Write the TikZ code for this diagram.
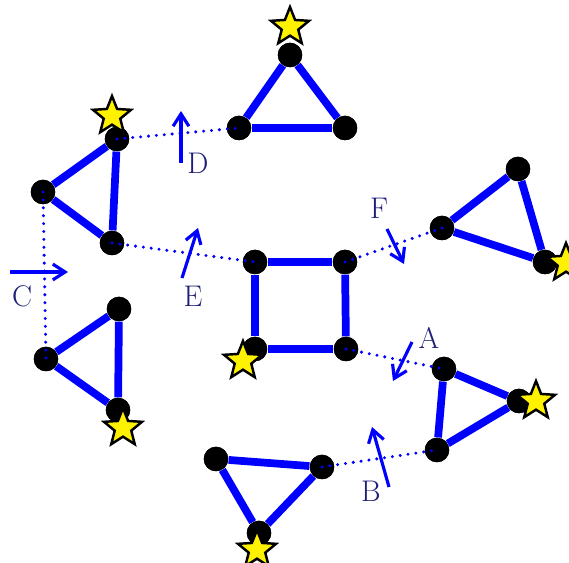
\documentclass[tikz,border=0pt]{standalone}
\usepackage{fontspec}
\usetikzlibrary{shapes.geometric,arrows.meta}
\definecolor{navy}{RGB}{30,30,120}
\begin{document}
\begin{tikzpicture}[x=0.02cm, y=-0.02cm,
  vert/.style={circle, fill=black, inner sep=0pt, minimum size=0.49cm},
  bond/.style={line width=4.4pt, draw=blue},
  link/.style={line width=1.9pt, draw=blue, dash pattern=on 0pt off 4.5pt, line cap=round},
  flip/.style={line width=1.8pt, draw=blue, -{Straight Barb[length=7pt, width=9pt]}},
  starmark/.style={star, star points=5, star point ratio=2.3, fill=yellow, draw=black, line width=1.4pt, inner sep=0pt, minimum size=0.8cm},
  lbl/.style={text=navy, font=\fontsize{17}{19}\selectfont}]
  \useasboundingbox (0,0) rectangle (569,563);
  % square
  \node[vert] (sq1) at (255,262) {};
  \node[vert] (sq2) at (345,262) {};
  \node[vert] (sq3) at (346,349) {};
  \node[vert] (sq4) at (255,349) {};
  % top triangle
  \node[vert] (ta) at (290,55) {};
  \node[vert] (tb) at (239,128) {};
  \node[vert] (tc) at (345,128) {};
  % upper left triangle
  \node[vert] (ua) at (117,139) {};
  \node[vert] (ub) at (43,192) {};
  \node[vert] (uc) at (112,243) {};
  % lower left triangle
  \node[vert] (la) at (119,309) {};
  \node[vert] (lb) at (46,359) {};
  \node[vert] (lc) at (118,410) {};
  % right triangle (F)
  \node[vert] (ra) at (518,169) {};
  \node[vert] (rb) at (442,228) {};
  \node[vert] (rc) at (545,262) {};
  % right triangle (A, B)
  \node[vert] (sa) at (444,369) {};
  \node[vert] (sb) at (519,401) {};
  \node[vert] (sc) at (437,450) {};
  % bottom triangle
  \node[vert] (ba) at (216,459) {};
  \node[vert] (bb) at (322,467) {};
  \node[vert] (bc) at (259,533) {};
  % bonds
  \foreach \p/\q in {sq1/sq2, sq2/sq3, sq3/sq4, sq4/sq1, ta/tb, tb/tc, tc/ta, ua/ub, ub/uc, uc/ua,
    la/lb, lb/lc, lc/la, ra/rb, rb/rc, rc/ra, sa/sb, sb/sc, sc/sa, ba/bb, bb/bc, bc/ba}
    \draw[bond] (\p) -- (\q);
  \foreach \v in {sq1, sq2, sq3, sq4, ta, tb, tc, ua, ub, uc, la, lb, lc, ra, rb, rc, sa, sb, sc, ba, bb, bc}
    \node[vert] at (\v) {};
  % stars
  \node[starmark] (st1) at (290,27) {};
  \node[starmark] (st2) at (112,116) {};
  \node[starmark] (st3) at (243,361) {};
  \node[starmark] (st4) at (123,428) {};
  \node[starmark] (st5) at (566,263) {};
  \node[starmark] (st6) at (536,401) {};
  \node[starmark] (st7) at (257,550) {};
  % dotted links
  \draw[link] (ua.center) -- (tb.center);
  \draw[link] (uc.center) -- (sq1.center);
  \draw[link] (ub.center) -- (lb.center);
  \draw[link] (sq2.center) -- (rb.center);
  \draw[link] (sq3.center) -- (sa.center);
  \draw[link] (bb.center) -- (sc.center);
  % flip arrows
  \coordinate (d0) at (181,163); \coordinate (d1) at (181,111);
  \coordinate (e0) at (182,278); \coordinate (e1) at (198,228);
  \coordinate (c0) at (10,272);  \coordinate (c1) at (68,272);
  \coordinate (f0) at (387,229); \coordinate (f1) at (404,264);
  \coordinate (a0) at (412,342); \coordinate (a1) at (393,381);
  \coordinate (b0) at (389,487); \coordinate (b1) at (372,427);
  \foreach \s/\t in {d0/d1, e0/e1, c0/c1, f0/f1, a0/a1, b0/b1}
    \draw[flip] (\s) -- (\t);
  % labels
  \node[lbl] (labD) at (198,163) {D};
  \node[lbl] (labE) at (193,296) {E};
  \node[lbl] (labC) at (22,296) {C};
  \node[lbl] (labF) at (379,208) {F};
  \node[lbl] (labA) at (429,338) {A};
  \node[lbl] (labB) at (371,491) {B};
\end{tikzpicture}
\end{document}
